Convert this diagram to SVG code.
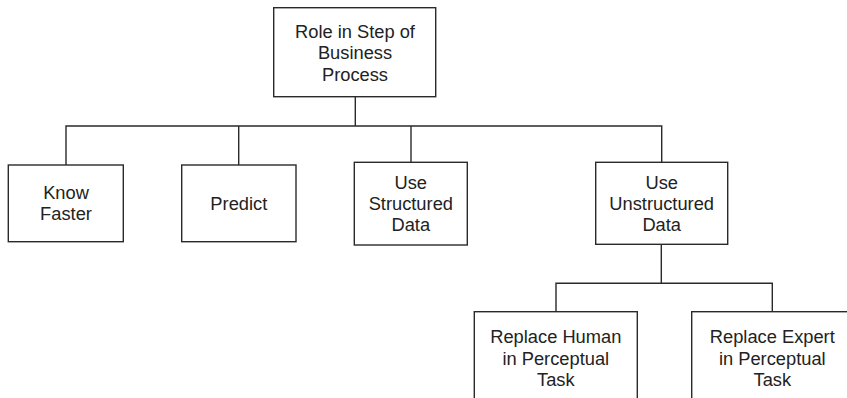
<svg xmlns="http://www.w3.org/2000/svg" width="847" height="398" viewBox="0 0 847 398">
  <style>
    .box { fill: #ffffff; stroke: #2a2a2a; stroke-width: 1.4; }
    .link { fill: none; stroke: #2a2a2a; stroke-width: 1.4; }
    text { font-family: "Liberation Sans", Arial, Helvetica, sans-serif; font-size: 18.3px; fill: #222222; text-anchor: middle; }
  </style>
  <rect width="847" height="398" fill="#ffffff"/>

  <!-- tree connectors -->
  <g id="connectors">
    <path class="link" d="M355.3 96.7 V126"/>
    <path class="link" d="M66 165 V126 H661.7 V162.3"/>
    <path class="link" d="M238.7 126 V165"/>
    <path class="link" d="M411 126 V162.3"/>
    <path class="link" d="M661.3 244.3 V283.3"/>
    <path class="link" d="M556 311.7 V283.3 H772.3 V311.7"/>
  </g>

  <g id="role">
    <rect class="box" x="273.7" y="7.7" width="162" height="89"/>
    <text x="355" y="37.5">Role in Step of</text>
    <text x="355" y="59">Business</text>
    <text x="355" y="80.5">Process</text>
  </g>

  <g id="know-faster">
    <rect class="box" x="8.3" y="165" width="115" height="76.7"/>
    <text x="66" y="199.3">Know</text>
    <text x="66" y="220.3">Faster</text>
  </g>

  <g id="predict">
    <rect class="box" x="181.7" y="165" width="114.3" height="76.7"/>
    <text x="238.8" y="209.8">Predict</text>
  </g>

  <g id="structured">
    <rect class="box" x="354.3" y="162.3" width="113" height="82.7"/>
    <text x="410.8" y="188.5">Use</text>
    <text x="410.8" y="209.5">Structured</text>
    <text x="410.8" y="230.5">Data</text>
  </g>

  <g id="unstructured">
    <rect class="box" x="595.7" y="162.3" width="132" height="82"/>
    <text x="661.7" y="188.5">Use</text>
    <text x="661.7" y="209.5">Unstructured</text>
    <text x="661.7" y="230.5">Data</text>
  </g>

  <g id="replace-human">
    <rect class="box" x="474.3" y="311.7" width="163" height="100"/>
    <text x="555.8" y="343.3">Replace Human</text>
    <text x="555.8" y="364.5">in Perceptual</text>
    <text x="555.8" y="385.5">Task</text>
  </g>

  <g id="replace-expert">
    <rect class="box" x="691.7" y="311.7" width="161" height="100"/>
    <text x="772.3" y="343.3">Replace Expert</text>
    <text x="772.3" y="364.5">in Perceptual</text>
    <text x="772.3" y="385.5">Task</text>
  </g>
</svg>
